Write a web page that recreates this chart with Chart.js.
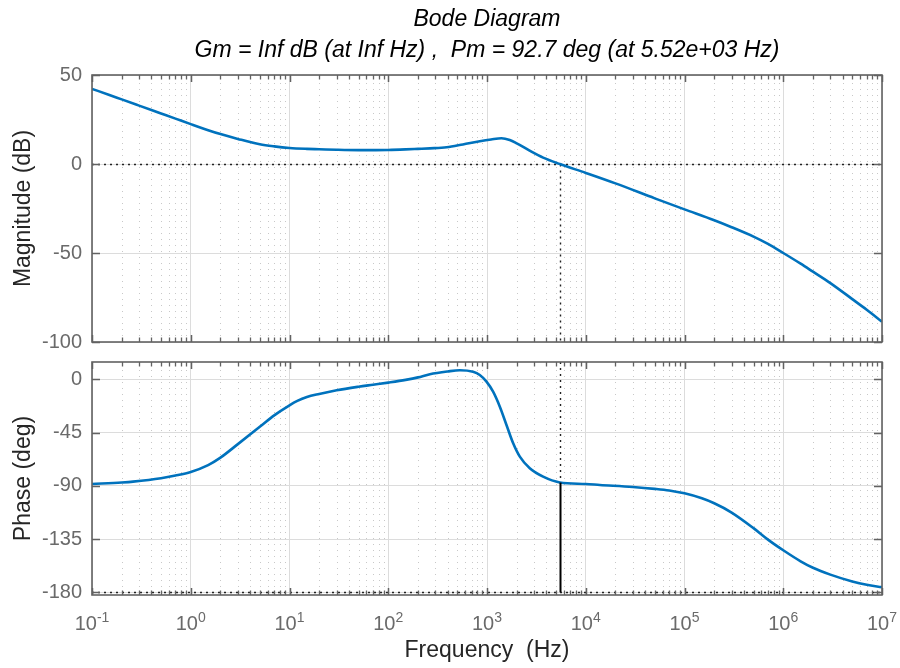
<!DOCTYPE html>
<html><head><meta charset="utf-8">
<script src="https://cdn.jsdelivr.net/npm/chart.js@4.4.1/dist/chart.umd.min.js"></script>
<style>
html,body{margin:0;padding:0;background:#fff;}
#wrap{position:relative;width:900px;height:668px;overflow:hidden;background:#fff;}
canvas{position:absolute;left:0;}
</style></head><body>
<div id="wrap">
<canvas id="mag" width="900" height="350" style="top:0"></canvas>
<canvas id="pha" width="900" height="318" style="top:350px"></canvas>
</div>
<script>
// ---- data ----
const magFrequencies = [0.1, 0.15, 0.2, 0.3, 0.5, 0.7, 1, 1.5, 2, 3, 5, 7, 10, 15, 20, 30, 50, 100, 150, 200, 264, 390, 570, 845, 1100, 1400, 1700, 2000, 2700, 3700, 5460, 1e4, 2e4, 5e4, 1e5, 2e5, 3e5, 5e5, 7e5, 1e6, 1.5e6, 2e6, 3e6, 5e6, 7e6, 1e7];
const magnitudeDb = [42.2, 38.8, 36.3, 32.8, 28.4, 25.5, 22.4, 19.0, 16.8, 14.1, 11.1, 9.9, 9.0, 8.5, 8.3, 8.0, 7.8, 7.9, 8.2, 8.5, 8.8, 9.4, 11.0, 12.8, 13.8, 14.5, 13.5, 11.6, 7.5, 3.6, 0.0, -5.0, -10.9, -19.3, -25.5, -31.6, -35.5, -40.8, -44.9, -50.0, -56.0, -60.5, -66.9, -75.9, -81.9, -88.6];
const phaseFrequencies = [0.1, 0.2, 0.26, 0.5, 0.7, 1, 1.5, 2, 3, 5, 7, 10, 12, 15, 20, 30, 50, 70, 100, 150, 200, 264, 400, 531, 723, 845, 988, 1153, 1349, 1575, 1841, 2150, 2711, 3700, 5460, 1e4, 1.39e4, 3e4, 5e4, 7e4, 1e5, 1.5e5, 2e5, 3e5, 5e5, 7e5, 1e6, 1.5e6, 2e6, 3e6, 5e6, 7e6, 1e7];
const phaseDeg = [-88.5, -87.2, -86.5, -83.7, -81.4, -78.3, -72.5, -66.2, -54.8, -40.2, -30.5, -22.0, -18.3, -15.0, -12.4, -9.3, -6.3, -4.6, -2.8, -0.5, 1.6, 4.3, 6.6, 7.6, 6.3, 3.6, -2.0, -10.5, -23.2, -38.6, -54.1, -65.4, -75.2, -82.3, -87.2, -88.5, -89.3, -91.0, -92.6, -94.0, -96.4, -100.6, -104.8, -112.6, -125.8, -135.5, -144.5, -153.8, -159.3, -165.1, -170.9, -173.7, -175.7];
const magTicks = [-100, -50, 0, 50];
const phaseTicks = [-180, -135, -90, -45, 0];
const decadeExponents = [-1, 0, 1, 2, 3, 4, 5, 6, 7];
const titleText = 'Bode Diagram';
const marginText = 'Gm = Inf dB (at Inf Hz) ,  Pm = 92.7 deg (at 5.52e+03 Hz)';
const magLabel = 'Magnitude (dB)';
const phaseLabel = 'Phase (deg)';
const freqLabel = 'Frequency  (Hz)';
const crossoverHz = 5520;
const phaseMarginDeg = 92.7;

// ---- styling ----
const FONT = "'Liberation Sans', Arial, Helvetica, sans-serif";
const LINE_BLUE = '#0072BD';
const TICK_GREY = '#6a6a6a';
const FRAME = '#626262';

const toXY = (fs, vals) => fs.map((f, i) => ({x: f, y: vals[i]}));

function commonX() {
  return {
    type: 'logarithmic', min: 0.1, max: 1e7,
    afterBuildTicks: s => { s.ticks = decadeExponents.map(e => ({value: Math.pow(10, e)})); },
    ticks: {display: false},
    grid: {color: '#dcdcdc', lineWidth: 1, drawTicks: false},
    border: {display: false},
    afterFit: s => { s.height = 0; s.paddingLeft = 0; s.paddingRight = 0; s.paddingTop = 0; s.paddingBottom = 0; }
  };
}
function commonY(min, max, ticks) {
  return {
    min, max,
    afterBuildTicks: s => { s.ticks = ticks.map(v => ({value: v})); },
    ticks: {padding: 10, color: TICK_GREY, font: {family: FONT, size: 20}},
    grid: {color: '#dcdcdc', lineWidth: 1, drawTicks: false},
    border: {display: false},
    afterFit: s => { s.width = 92; s.paddingLeft = 0; s.paddingRight = 0; s.paddingTop = 0; s.paddingBottom = 0; }
  };
}

function drawFrameAndTicks(chart, yTicks) {
  const {ctx, chartArea: a, scales: {x, y}} = chart;
  ctx.save();
  ctx.setLineDash([]);
  ctx.strokeStyle = FRAME;
  for (let i = 0; i < decadeExponents.length; i++) {
    const e = decadeExponents[i];
    const px = Math.round(x.getPixelForValue(Math.pow(10, e))) + 0.5;
    ctx.lineWidth = 1.5;
    ctx.beginPath();
    ctx.moveTo(px, a.top); ctx.lineTo(px, a.top + 7);
    ctx.moveTo(px, a.bottom); ctx.lineTo(px, a.bottom - 7);
    ctx.stroke();
    if (i < decadeExponents.length - 1) {
      ctx.lineWidth = 1.3;
      for (let k = 2; k <= 9; k++) {
        const mx = Math.round(x.getPixelForValue(k * Math.pow(10, e))) + 0.5;
        ctx.beginPath();
        ctx.moveTo(mx, a.top); ctx.lineTo(mx, a.top + 4.5);
        ctx.moveTo(mx, a.bottom); ctx.lineTo(mx, a.bottom - 4.5);
        ctx.stroke();
      }
    }
  }
  ctx.lineWidth = 1.5;
  for (const v of yTicks) {
    const py = Math.round(y.getPixelForValue(v)) + 0.5;
    ctx.beginPath();
    ctx.moveTo(a.left, py); ctx.lineTo(a.left + 8, py);
    ctx.moveTo(a.right, py); ctx.lineTo(a.right - 8, py);
    ctx.stroke();
  }
  ctx.lineWidth = 1.6;
  ctx.strokeRect(a.left, a.top, a.right - a.left, a.bottom - a.top);
  ctx.restore();
}

function drawMinorGrid(chart) {
  const {ctx, chartArea: a, scales: {x}} = chart;
  ctx.save();
  ctx.strokeStyle = '#c8c8c8';
  ctx.lineWidth = 1;
  ctx.setLineDash([1, 5]);
  for (const e of decadeExponents.slice(0, -1)) {
    for (let k = 2; k <= 9; k++) {
      const px = Math.round(x.getPixelForValue(k * Math.pow(10, e))) + 0.5;
      ctx.beginPath(); ctx.moveTo(px, a.top + 2); ctx.lineTo(px, a.bottom); ctx.stroke();
    }
  }
  ctx.restore();
}

function dotted(ctx, x0, y0, x1, y1) {
  ctx.save();
  ctx.strokeStyle = '#222';
  ctx.lineWidth = 1.4;
  ctx.setLineDash([2, 4]);
  ctx.beginPath(); ctx.moveTo(x0, y0); ctx.lineTo(x1, y1); ctx.stroke();
  ctx.restore();
}

function rotatedLabel(ctx, text, xBase, yCenter) {
  ctx.save();
  ctx.translate(xBase, yCenter);
  ctx.rotate(-Math.PI / 2);
  ctx.font = `23px ${FONT}`;
  ctx.fillStyle = '#262626';
  ctx.textAlign = 'center';
  ctx.textBaseline = 'alphabetic';
  ctx.fillText(text, 0, 0);
  ctx.restore();
}

const magPlugin = {
  id: 'magDecor',
  beforeDatasetsDraw(chart) {
    drawMinorGrid(chart);
    const {ctx, chartArea: a, scales: {x, y}} = chart;
    const y0 = Math.round(y.getPixelForValue(0)) + 0.5;
    dotted(ctx, a.left, y0, a.right, y0);
    const xc = Math.round(x.getPixelForValue(crossoverHz)) + 0.5;
    dotted(ctx, xc, y0, xc, a.bottom);
  },
  afterDatasetsDraw(chart) { drawFrameAndTicks(chart, magTicks); },
  afterDraw(chart) {
    const {ctx, chartArea: a} = chart;
    const cx = (a.left + a.right) / 2;
    ctx.save();
    ctx.fillStyle = '#000';
    ctx.textAlign = 'center';
    ctx.textBaseline = 'alphabetic';
    ctx.font = `italic 23px ${FONT}`;
    ctx.fillText(titleText, cx, 26);
    ctx.fillText(marginText, cx, 57);
    ctx.restore();
    rotatedLabel(ctx, magLabel, 30, (a.top + a.bottom) / 2);
  }
};

const phasePlugin = {
  id: 'phaseDecor',
  beforeDatasetsDraw(chart) {
    drawMinorGrid(chart);
    const {ctx, chartArea: a, scales: {x, y}} = chart;
    const yb = Math.round(y.getPixelForValue(-180)) + 0.5;
    dotted(ctx, a.left, yb, a.right, yb);
    const xc = Math.round(x.getPixelForValue(crossoverHz)) + 0.5;
    const yp = y.getPixelForValue(phaseMarginDeg - 180);
    dotted(ctx, xc, a.top, xc, yp);
  },
  afterDatasetsDraw(chart) {
    const {ctx, scales: {x, y}} = chart;
    const xc = Math.round(x.getPixelForValue(crossoverHz)) + 0.5;
    const yp = y.getPixelForValue(phaseMarginDeg - 180);
    const yb = y.getPixelForValue(-180);
    ctx.save();
    ctx.strokeStyle = '#000';
    ctx.lineWidth = 2;
    ctx.beginPath(); ctx.moveTo(xc, yp); ctx.lineTo(xc, yb); ctx.stroke();
    ctx.restore();
    drawFrameAndTicks(chart, phaseTicks);
  },
  afterDraw(chart) {
    const {ctx, chartArea: a, scales: {x}} = chart;
    rotatedLabel(ctx, phaseLabel, 30, (a.top + a.bottom) / 2);
    ctx.save();
    ctx.fillStyle = TICK_GREY;
    ctx.textBaseline = 'alphabetic';
    ctx.textAlign = 'left';
    for (const e of decadeExponents) {
      const px = x.getPixelForValue(Math.pow(10, e));
      ctx.font = `20px ${FONT}`;
      const wb = ctx.measureText('10').width;
      ctx.font = `14px ${FONT}`;
      const es = String(e);
      const we = ctx.measureText(es).width;
      const start = px - (wb + we) / 2;
      ctx.font = `20px ${FONT}`;
      ctx.fillText('10', start, a.bottom + 35);
      ctx.font = `14px ${FONT}`;
      ctx.fillText(es, start + wb, a.bottom + 26.5);
    }
    ctx.fillStyle = '#262626';
    ctx.textAlign = 'center';
    ctx.font = `23px ${FONT}`;
    ctx.fillText(freqLabel, (a.left + a.right) / 2, a.bottom + 62);
    ctx.restore();
  }
};

Chart.defaults.font.family = FONT;

new Chart(document.getElementById('mag'), {
  type: 'line',
  data: {datasets: [{data: toXY(magFrequencies, magnitudeDb), borderColor: LINE_BLUE, borderWidth: 2.6, pointRadius: 0, cubicInterpolationMode: 'monotone', fill: false}]},
  options: {
    responsive: false, animation: false, devicePixelRatio: 1,
    layout: {padding: {left: 0, right: 18, top: 75, bottom: 8}},
    plugins: {legend: {display: false}, tooltip: {enabled: false}},
    scales: {x: commonX(), y: commonY(-100, 50, magTicks)}
  },
  plugins: [magPlugin]
});

new Chart(document.getElementById('pha'), {
  type: 'line',
  data: {datasets: [{data: toXY(phaseFrequencies, phaseDeg), borderColor: LINE_BLUE, borderWidth: 2.6, pointRadius: 0, cubicInterpolationMode: 'monotone', fill: false}]},
  options: {
    responsive: false, animation: false, devicePixelRatio: 1,
    layout: {padding: {left: 0, right: 18, top: 12, bottom: 73}},
    plugins: {legend: {display: false}, tooltip: {enabled: false}},
    scales: {x: commonX(), y: commonY(-182.3, 14.6, phaseTicks)}
  },
  plugins: [phasePlugin]
});
</script>
</body></html>
